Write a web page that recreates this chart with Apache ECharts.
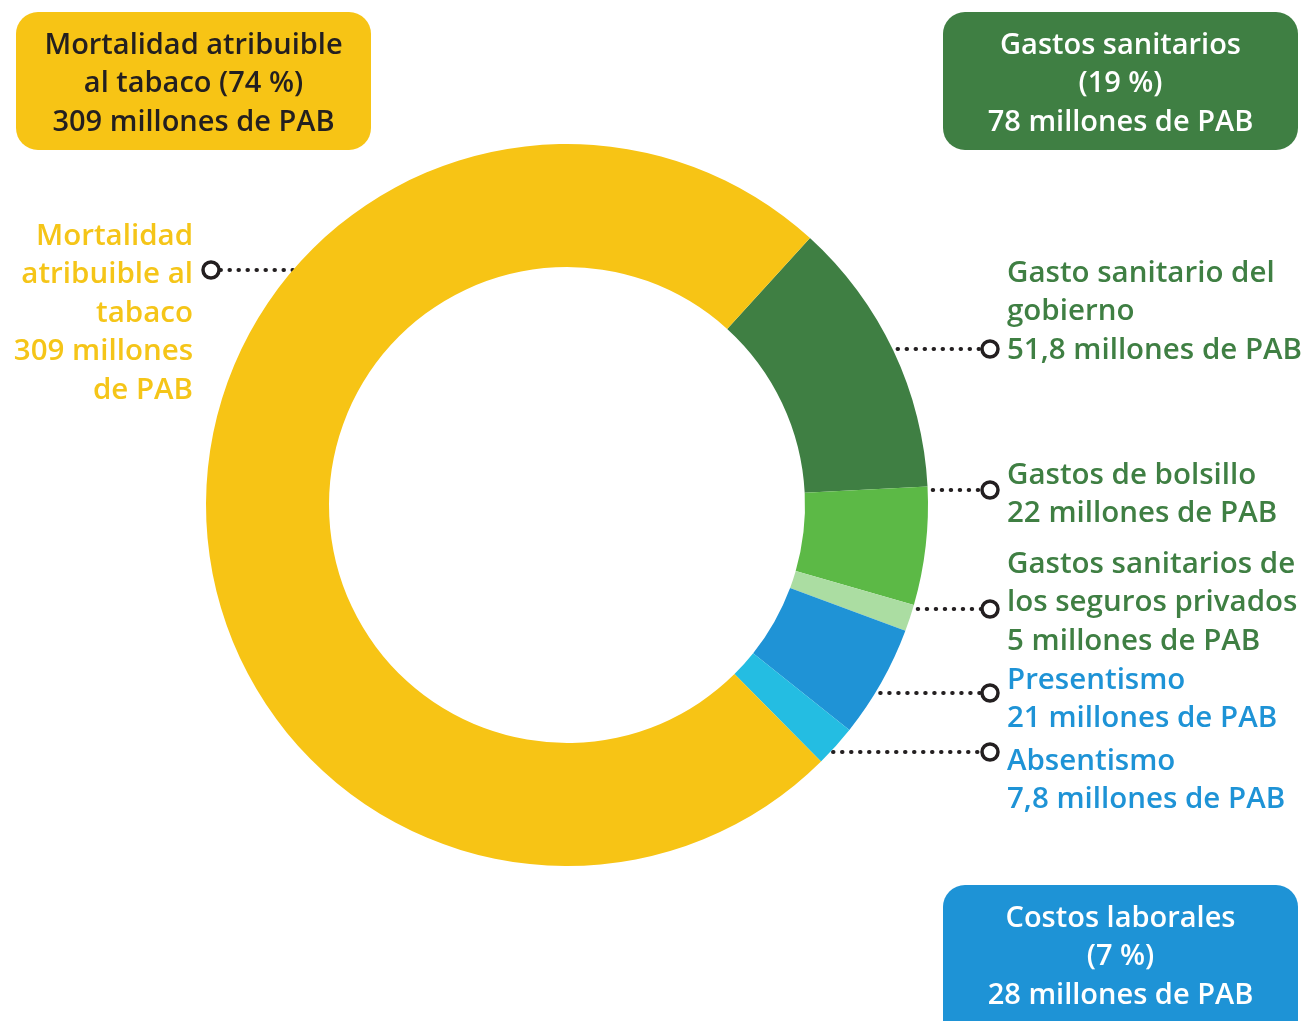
<!DOCTYPE html>
<html lang="es">
<head>
<meta charset="UTF-8">
<title>Costos del tabaco</title>
<script src="https://cdn.jsdelivr.net/npm/echarts@6/dist/echarts.min.js"></script>
<style>
  html, body { margin: 0; padding: 0; background: #fff; }
  #main { width: 1307px; height: 1021px; }
</style>
</head>
<body>
<div id="main"></div>
<script>
// datos (millones de PAB)
var categorias = ['Gasto sanitario del gobierno', 'Gastos de bolsillo', 'Gastos sanitarios de los seguros privados', 'Presentismo', 'Absentismo', 'Mortalidad atribuible al tabaco'];
var valores = [51.8, 22, 5, 21, 7.8, 309];
var etiquetas = [
  'Gasto sanitario del\ngobierno\n51,8 millones de PAB',
  'Gastos de bolsillo\n22 millones de PAB',
  'Gastos sanitarios de\nlos seguros privados\n5 millones de PAB',
  'Presentismo\n21 millones de PAB',
  'Absentismo\n7,8 millones de PAB',
  'Mortalidad\natribuible al\ntabaco\n309 millones\nde PAB'
];
var colores = ['#3F7F43', '#5CB946', '#ABDDA2', '#1F93D6', '#24BDE2', '#F7C415'];
var coloresTexto = ['#3F7F43', '#3F7F43', '#3F7F43', '#1E93D6', '#1E93D6', '#F5C518'];

// recuadros de resumen
var resumen = [
  { texto: 'Mortalidad atribuible\nal tabaco (74 %)\n309 millones de PAB', fondo: '#F7C415', color: '#231F20', x: 16, y: 12, h: 138 },
  { texto: 'Gastos sanitarios\n(19 %)\n78 millones de PAB', fondo: '#3F7F43', color: '#ffffff', x: 943, y: 12, h: 138 },
  { texto: 'Costos laborales\n(7 %)\n28 millones de PAB', fondo: '#1E93D6', color: '#ffffff', x: 943, y: 885, h: 160 }
];

// posicion de cada etiqueta: y del marcador, x/y del texto, lado
var ubicacion = [
  { my: 349, tx: 1007, ty: 254, lado: 'der' },
  { my: 490, tx: 1007, ty: 456, lado: 'der' },
  { my: 609, tx: 1007, ty: 545, lado: 'der' },
  { my: 693, tx: 1007, ty: 661, lado: 'der' },
  { my: 752, tx: 1007, ty: 742, lado: 'der' },
  { my: 270, tx: 193, ty: 217, lado: 'izq' }
];

var cx = 567, cy = 505, rIn = 238, rOut = 361;
var fuente = '"Open Sans", "Lato", sans-serif';
var tam = 29.5;

var chart = echarts.init(document.getElementById('main'));

var datos = valores.map(function (v, i) {
  return {
    name: categorias[i],
    value: v,
    itemStyle: { color: colores[i] },
    label: { color: coloresTexto[i], align: ubicacion[i].lado === 'der' ? 'left' : 'right' }
  };
});

var graficos = [];
resumen.forEach(function (b) {
  graficos.push({
    type: 'rect',
    shape: { x: b.x, y: b.y, width: 355, height: b.h, r: 22 },
    style: { fill: b.fondo },
    z: 10
  });
  graficos.push({
    type: 'text',
    x: b.x + 177.5,
    y: b.y + 14,
    style: {
      text: b.texto,
      fill: b.color,
      font: '600 ' + (tam - 0.5) + 'px ' + fuente,
      lineHeight: 38.5,
      align: 'center',
      verticalAlign: 'top'
    },
    z: 11
  });
});
ubicacion.forEach(function (u) {
  graficos.push({
    type: 'circle',
    shape: { cx: u.lado === 'der' ? 990 : 211, cy: u.my, r: 8 },
    style: { fill: '#fff', stroke: '#231F20', lineWidth: 3.5 },
    z: 100
  });
});

chart.setOption({
  backgroundColor: '#ffffff',
  animation: false,
  graphic: graficos,
  series: [{
    type: 'pie',
    center: [cx, cy],
    radius: [rIn, rOut],
    startAngle: 47.7,
    clockwise: true,
    avoidLabelOverlap: false,
    emphasis: { scale: false },
    data: datos,
    label: {
      show: true,
      formatter: function (p) { return etiquetas[p.dataIndex]; },
      fontFamily: fuente,
      fontWeight: 600,
      fontSize: tam,
      lineHeight: 38.5
    },
    labelLine: {
      show: true,
      lineStyle: { color: '#231F20', width: 4, type: [0.5, 8.5], cap: 'round' }
    },
    labelLayout: function (p) {
      var u = ubicacion[p.dataIndex];
      var dy = u.my - cy;
      var dx = Math.sqrt(rOut * rOut - dy * dy);
      var sx, ex;
      if (u.lado === 'der') { sx = cx + dx - 4; ex = 982; }
      else { sx = cx - dx; ex = 219; }
      if (p.dataIndex === 4) sx = 824;
      return {
        x: u.tx,
        y: u.ty,
        align: u.lado === 'der' ? 'left' : 'right',
        verticalAlign: 'top',
        labelLinePoints: [[sx, u.my], [(sx + ex) / 2, u.my], [ex, u.my]]
      };
    }
  }]
});
</script>
</body>
</html>
